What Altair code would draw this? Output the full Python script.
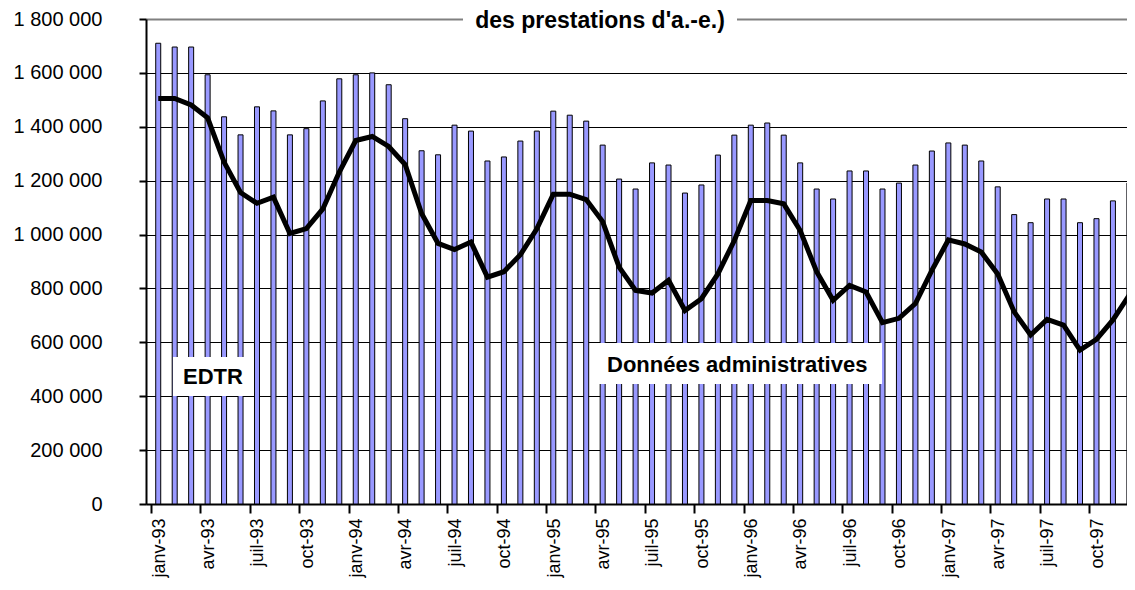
import json
import altair as alt
import pandas as pd

# ---- data ----
month_names = ["janv", "févr", "mars", "avr", "mai", "juin",
               "juil", "août", "sept", "oct", "nov", "déc"]
years = ["93", "94", "95", "96", "97"]

edtr = [
    1710000, 1696000, 1696000, 1593000, 1437000, 1370000, 1474000, 1459000, 1370000, 1393000, 1496000, 1578000,
    1593000, 1600000, 1556000, 1430000, 1311000, 1296000, 1406000, 1384000, 1273000, 1288000, 1347000, 1384000,
    1458000, 1443000, 1421000, 1332000, 1206000, 1169000, 1266000, 1258000, 1154000, 1184000, 1295000, 1369000,
    1406000, 1414000, 1369000, 1266000, 1169000, 1132000, 1236000, 1236000, 1169000, 1191000, 1258000, 1310000,
    1340000, 1332000, 1273000, 1177000, 1074000, 1044000, 1132000, 1132000, 1044000, 1059000, 1125000, 1191000,
]

admin = [
    1505000, 1505000, 1481000, 1433000, 1269000, 1156000, 1116000, 1139000, 1004000, 1022000, 1095000, 1232000,
    1349000, 1364000, 1327000, 1260000, 1078000, 967000, 944000, 972000, 842000, 862000, 925000, 1021000,
    1150000, 1150000, 1130000, 1048000, 879000, 793000, 783000, 830000, 718000, 762000, 854000, 978000,
    1126000, 1126000, 1114000, 1015000, 862000, 756000, 811000, 787000, 673000, 689000, 744000, 867000,
    980000, 965000, 935000, 854000, 713000, 627000, 685000, 664000, 571000, 611000, 683000, 776000,
]

y_ticks = [0, 200000, 400000, 600000, 800000, 1000000, 1200000, 1400000, 1600000, 1800000]
title_text = "des prestations d'a.-e.)"
label_edtr = "EDTR"
label_admin = "Données administratives"

month_labels = [f"{m}-{y}" for y in years for m in month_names]
tick_positions = list(range(0, len(month_labels), 3))

df = pd.DataFrame({
    "i": list(range(len(month_labels))),
    "mois": month_labels,
    "edtr": edtr,
    "admin": admin,
})

FONT = "Liberation Sans"

x_label_expr = json.dumps(month_labels, ensure_ascii=False) + "[datum.value]"
y_label_expr = "replace(replace(format(datum.value, ','), ',', ' '), ',', ' ')"

x_axis = alt.Axis(
    values=tick_positions, labelExpr=x_label_expr, title=None, grid=False,
    labelAngle=270, labelAlign="right", labelBaseline="top", labelOffset=-1,
    labelFont=FONT, labelFontSize=18, labelColor="black", labelPadding=5,
    labelOverlap=False, labelFlush=False,
    domainColor="black", domainWidth=2, tickColor="black", tickWidth=2, tickSize=9,
)
y_axis = alt.Axis(
    values=y_ticks, labelExpr=y_label_expr, title=None, grid=True,
    gridColor={"condition": {"test": "datum.value >= 1800000", "value": "#808080"}, "value": "#000000"},
    gridWidth={"condition": {"test": "datum.value >= 1800000", "value": 2}, "value": 1},
    labelFont=FONT, labelFontSize=20, labelColor="black", labelPadding=37,
    domainColor="black", domainWidth=2, tickColor="black", tickWidth=2, tickSize=7,
)

# plot area 981 px wide at 16.63 px per month
x_scale = alt.Scale(domain=[0, 58.99], nice=False, zero=False)
y_scale = alt.Scale(domain=[0, 1800000], nice=False)

base = alt.Chart(df).transform_calculate(pos="datum.i + 0.5")

bars = base.mark_bar(width=5, color="#9999FF", stroke="black", strokeWidth=1,
                     clip=True, xOffset=-1).encode(
    x=alt.X("pos:Q", scale=x_scale, axis=x_axis),
    y=alt.Y("edtr:Q", scale=y_scale, axis=y_axis),
    tooltip=["mois:N", "edtr:Q"],
)

line = base.mark_line(color="black", strokeWidth=5, clip=True, xOffset=-1).encode(
    x=alt.X("pos:Q", scale=x_scale, axis=x_axis),
    y=alt.Y("admin:Q", scale=y_scale, axis=y_axis),
)

one = pd.DataFrame({"k": [0]})

def box(x1, x2, y1, y2):
    return alt.Chart(one).mark_rect(color="white").encode(
        x=alt.value(x1), x2=alt.value(x2), y=alt.value(y1), y2=alt.value(y2))

def label(text, x, y, size, align="left"):
    return alt.Chart(pd.DataFrame({"t": [text]})).mark_text(
        font=FONT, fontWeight="bold", fontSize=size, color="black",
        align=align, baseline="alphabetic").encode(
        x=alt.value(x), y=alt.value(y), text="t:N")

title_box = box(317, 591, -11, 13)
title_lbl = label(title_text, 454, 9, 23, align="center")
edtr_box = box(27, 108, 338, 377)
edtr_lbl = label(label_edtr, 37, 365, 22)
admin_box = box(444, 736, 324, 365)
admin_lbl = label(label_admin, 461, 353, 22)

chart = alt.layer(
    bars, line, title_box, title_lbl, edtr_box, edtr_lbl, admin_box, admin_lbl
).properties(
    width=981, height=485,
    autosize=alt.AutoSizeParams(type="none"),
    padding={"left": 138, "top": 11, "right": 0, "bottom": 76},
    background="white",
).configure_view(stroke=None)

chart.save("out.html", embed_options={"renderer": "svg", "actions": False})
